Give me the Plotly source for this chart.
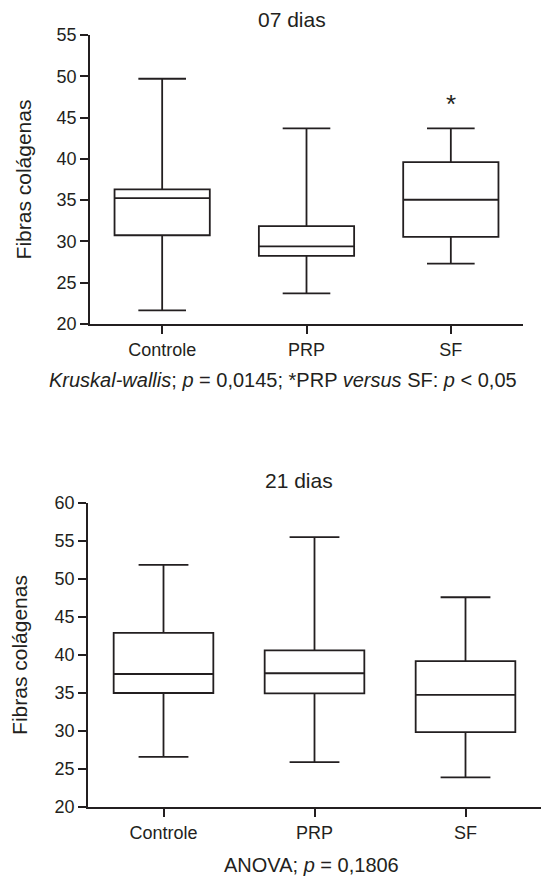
import plotly.graph_objects as go

categories = ["Controle", "PRP", "SF"]

# 07 dias
d07_upper = [49.7, 43.7, 43.7]
d07_q3 = [36.3, 31.85, 39.6]
d07_median = [35.25, 29.4, 35.05]
d07_q1 = [30.75, 28.25, 30.55]
d07_lower = [21.65, 23.7, 27.3]

# 21 dias
d21_upper = [51.85, 55.5, 47.6]
d21_q3 = [42.9, 40.6, 39.2]
d21_median = [37.5, 37.6, 34.75]
d21_q1 = [35.0, 34.95, 29.85]
d21_lower = [26.6, 25.9, 23.9]

W, H = 554, 878
OFF = 8  # page body margin
FONT = "Liberation Sans, Arial, sans-serif"
INK = "#231f20"
LW = 1.8

fig = go.Figure()

def add_box(xaxis, yaxis, q1, med, q3, lo, hi):
    fig.add_trace(go.Box(
        x=categories, q1=q1, median=med, q3=q3,
        lowerfence=lo, upperfence=hi,
        xaxis=xaxis, yaxis=yaxis,
        width=0.66, whiskerwidth=0.5,
        line=dict(color=INK, width=LW),
        fillcolor="rgba(255,255,255,0)",
        boxpoints=False, showlegend=False, hoverinfo="skip",
    ))

add_box("x", "y", d07_q1, d07_median, d07_q3, d07_lower, d07_upper)
add_box("x2", "y2", d21_q1, d21_median, d21_q3, d21_lower, d21_upper)

def px_x(v):
    return (v - OFF) / W

def px_y(v):
    return 1 - (v - OFF) / H

axis_common = dict(
    showline=True, linecolor=INK, linewidth=LW,
    ticks="outside", ticklen=8, tickwidth=LW, tickcolor=INK,
    showgrid=False, zeroline=False, automargin=False,
    tickfont=dict(family=FONT, size=18, color=INK),
)
ytitle_font = dict(family=FONT, size=21, color=INK)

fig.update_layout(
    template="none",
    width=W, height=H,
    margin=dict(l=0, r=0, t=0, b=0, autoexpand=False),
    paper_bgcolor="white", plot_bgcolor="white",
    xaxis=dict(domain=[px_x(90), px_x(523)], anchor="y",
               range=[-0.5, 2.5], **axis_common),
    yaxis=dict(domain=[px_y(324), px_y(35)], anchor="x",
               range=[20, 55], tickvals=[20, 25, 30, 35, 40, 45, 50, 55],
               title=dict(text="Fibras colágenas", font=ytitle_font, standoff=19),
               **axis_common),
    xaxis2=dict(domain=[px_x(88), px_x(541)], anchor="y2",
                range=[-0.5, 2.5], **axis_common),
    yaxis2=dict(domain=[px_y(807), px_y(503)], anchor="x2",
                range=[20, 60], tickvals=[20, 25, 30, 35, 40, 45, 50, 55, 60],
                title=dict(text="Fibras colágenas", font=ytitle_font, standoff=22),
                **axis_common),
)

ann_font = dict(family=FONT, size=20, color=INK)
title_font = dict(family=FONT, size=21, color=INK)
fig.add_annotation(x=px_x(292), y=px_y(20), xref="paper", yref="paper",
                   text="07 dias", showarrow=False, font=title_font,
                   xanchor="center", yanchor="middle")
fig.add_annotation(x=px_x(299), y=px_y(480), xref="paper", yref="paper",
                   text="21 dias", showarrow=False, font=title_font,
                   xanchor="center", yanchor="middle")
fig.add_annotation(x="SF", y=47.0, xref="x", yref="y", text="*", showarrow=False,
                   font=dict(family=FONT, size=26, color=INK), yanchor="middle", yshift=-3)
fig.add_annotation(x=px_x(283), y=px_y(380), xref="paper", yref="paper",
                   text="<i>Kruskal-wallis</i>; <i>p</i> = 0,0145; *PRP <i>versus</i> SF: <i>p</i> &lt; 0,05",
                   showarrow=False, font=ann_font, xanchor="center", yanchor="middle")
fig.add_annotation(x=px_x(311), y=px_y(865), xref="paper", yref="paper",
                   text="ANOVA; <i>p</i> = 0,1806",
                   showarrow=False, font=ann_font, xanchor="center", yanchor="middle")

fig.write_html("out.html")
